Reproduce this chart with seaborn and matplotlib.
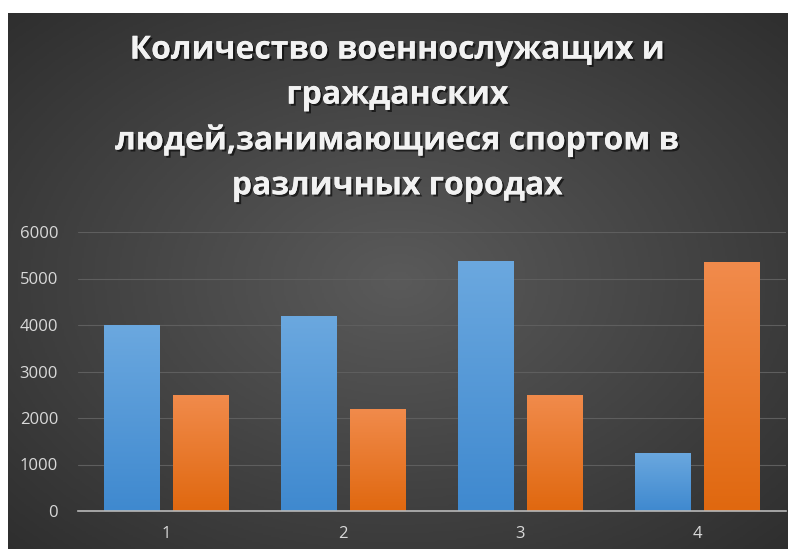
import numpy as np
import pandas as pd
import matplotlib
matplotlib.use("Agg")
import matplotlib.pyplot as plt
import matplotlib.patheffects as pe
from matplotlib.colors import LinearSegmentedColormap
import seaborn as sns

# ---- data ----
categories = ["1", "2", "3", "4"]
military = [4000, 4200, 5370, 1250]
civilians = [2500, 2200, 2500, 5350]
series_names = ["Военнослужащие", "Гражданские"]
y_ticks = [0, 1000, 2000, 3000, 4000, 5000, 6000]
title = "Количество военнослужащих и\nгражданских\nлюдей,занимающиеся спортом в\nразличных городах"

df = pd.DataFrame({
    "cat": categories * 2,
    "value": military + civilians,
    "series": [series_names[0]] * 4 + [series_names[1]] * 4,
})

sns.set_theme(style="dark")
plt.rcParams["font.family"] = ["Open Sans", "DejaVu Sans"]

W, H = 790, 549
fig = plt.figure(figsize=(W / 100, H / 100), dpi=100)
fig.patch.set_facecolor("white")

# background panel with radial gradient
bx0, bx1, by0, by1 = 8, 787, 13, 549
bg = fig.add_axes([bx0 / W, 1 - by1 / H, (bx1 - bx0) / W, (by1 - by0) / H], zorder=0)
yy, xx = np.mgrid[0:1:300j, 0:1:400j]
r = np.sqrt(((xx - 0.5) / 0.75) ** 2 + ((yy - 0.5) / 0.75) ** 2)
r = np.clip(r, 0, 1)
bg_cmap = LinearSegmentedColormap.from_list("bg", ["#5a5a5a", "#434343", "#2c2c2c"])
bg.imshow(r, cmap=bg_cmap, aspect="auto", extent=[0, 1, 0, 1], vmin=0, vmax=1)
bg.set_axis_off()

# main axes
ax_l, ax_r, ax_b, ax_t = 77.5, 785.5, 511, 232
ax = fig.add_axes([ax_l / W, 1 - ax_b / H, (ax_r - ax_l) / W, (ax_b - ax_t) / H], zorder=1)
ax.patch.set_alpha(0)

sns.barplot(data=df, x="cat", y="value", hue="series", order=categories,
            palette=["#5b9bd5", "#ed7d31"], width=0.78, gap=0.2,
            legend=False, ax=ax, saturation=1)

grads = {
    0: LinearSegmentedColormap.from_list("b", ["#3f89cf", "#6ba8df"]),
    1: LinearSegmentedColormap.from_list("o", ["#e0680f", "#f18b4c"]),
}
grad = np.linspace(0, 1, 256).reshape(-1, 1)
for i, p in enumerate(ax.patches):
    s = 0 if i < len(categories) else 1
    x0, y0 = p.get_x(), p.get_y()
    w, h = p.get_width(), p.get_height()
    im = ax.imshow(grad, cmap=grads[s], origin="lower", aspect="auto",
                   extent=[x0, x0 + w, y0, y0 + h], zorder=2)
    im.set_clip_path(p)
    p.set_facecolor("none")
    p.set_edgecolor("none")

ax.set_xlim(-0.5, 3.5)
ax.set_ylim(0, 6000)
ax.set_yticks(y_ticks)
ax.set_yticklabels([str(t) for t in y_ticks])
ax.set_xlabel("")
ax.set_ylabel("")
ax.grid(axis="y", color="#5e5e5e", linewidth=0.8)
ax.grid(axis="x", visible=False)
ax.set_axisbelow(True)
for side in ["top", "right", "left"]:
    ax.spines[side].set_visible(False)
ax.spines["bottom"].set_color("#b8b8b8")
ax.spines["bottom"].set_linewidth(1.2)
ax.tick_params(axis="both", length=0, colors="#d9d9d9", labelsize=12)
ax.tick_params(axis="y", pad=14)
ax.tick_params(axis="x", pad=10.5)

fig.text(0.5 * (bx0 + bx1) / W, 1 - 118 / H, title, ha="center", va="center",
         fontsize=23, fontweight="bold", color="#f2f2f2", linespacing=1.48,
         path_effects=[pe.withSimplePatchShadow(offset=(1.5, -1.5), shadow_rgbFace="black", alpha=0.6), pe.Normal()])

fig.savefig("out.png", dpi=100)
